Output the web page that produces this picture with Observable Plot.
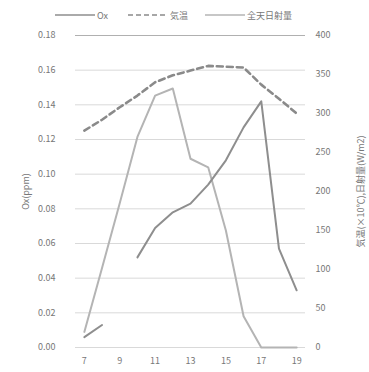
<!DOCTYPE html>
<html>
<head>
<meta charset="utf-8">
<script src="https://cdn.jsdelivr.net/npm/d3@7"></script>
<script src="https://cdn.jsdelivr.net/npm/@observablehq/plot@0.6"></script>
<style>
  html, body { margin: 0; padding: 0; background: #fff; }
  body { width: 369px; height: 372px; overflow: hidden; font-family: "Noto Sans CJK JP", "Noto Sans", sans-serif; }
  #legend { position: relative; height: 28px; width: 369px; font-size: 9px; color: #777; }
  .item { position: absolute; top: 9px; display: flex; align-items: center; height: 12px; }
  .item svg { margin-right: 2px; }
</style>
</head>
<body>
<div id="legend"></div>
<div id="chart"></div>
<script>
// ---- data ----
const hours = [7, 8, 9, 10, 11, 12, 13, 14, 15, 16, 17, 18, 19];
const ox = [0.006, 0.013, null, 0.052, 0.069, 0.078, 0.083, 0.094, 0.108, 0.127, 0.142, 0.057, 0.033];
const temp10 = [278, 292, 308, 323, 340, 349, 355, 361, 360, 359, 337, 319, 300];
const radiation = [20, 102, 185, 270, 323, 332, 242, 231, 150, 40, 0, 0, 0];
const leftTicks = [0, 0.02, 0.04, 0.06, 0.08, 0.10, 0.12, 0.14, 0.16, 0.18];
const rightTicks = [0, 50, 100, 150, 200, 250, 300, 350, 400];
const xTicks = [7, 9, 11, 13, 15, 17, 19];
const seriesNames = ["Ox", "気温", "全天日射量"];
const leftLabel = "Ox(ppm)";
const rightLabel = "気温(×10℃),日射量(W/m2)";

const LMAX = 0.18, RMAX = 400;
const toLeft = v => v == null ? NaN : v * LMAX / RMAX;

const oxData = hours.map((h, i) => ({h, v: ox[i] == null ? NaN : ox[i]}));
const tempData = hours.map((h, i) => ({h, v: toLeft(temp10[i])}));
const radData = hours.map((h, i) => ({h, v: toLeft(radiation[i])}));

const colOx = "#8e8e8e", colTemp = "#8a8a8a", colRad = "#b4b4b4";

// ---- legend ----
const legend = document.getElementById("legend");
const items = [
  {name: seriesNames[0], color: colOx, dash: null, left: 55},
  {name: seriesNames[1], color: colTemp, dash: "5,3", left: 128},
  {name: seriesNames[2], color: colRad, dash: null, left: 205}
];
for (const it of items) {
  const d = document.createElement("div");
  d.className = "item";
  d.style.left = it.left + "px";
  d.innerHTML = `<svg width="40" height="6"><line x1="0" y1="3" x2="40" y2="3" stroke="${it.color}" stroke-width="1.6" ${it.dash ? `stroke-dasharray="${it.dash}"` : ""}/></svg><span>${it.name}</span>`;
  legend.appendChild(d);
}

// ---- chart ----
const chart = Plot.plot({
  width: 369,
  height: 344,
  marginLeft: 75,
  marginRight: 64,
  marginTop: 7,
  marginBottom: 25,
  style: {fontFamily: '"Noto Sans CJK JP", "Noto Sans", sans-serif', fontSize: "9px", color: "#777", background: "#fff"},
  x: {domain: [6.5, 19.5]},
  y: {domain: [0, LMAX]},
  marks: [
    Plot.ruleY(leftTicks.slice(0, -1), {stroke: "#d9d9d9", strokeWidth: 1}),
    Plot.ruleY([LMAX], {stroke: "#b0b0b0", strokeWidth: 1.2}),
    Plot.axisY({ticks: leftTicks, tickSize: 0, tickPadding: 20, tickFormat: d3.format(".2f"),
      label: leftLabel, labelAnchor: "center", labelArrow: "none", labelOffset: 53, fill: "#777"}),
    Plot.axisY({anchor: "right", ticks: rightTicks.map(toLeft), tickSize: 0, tickPadding: 10,
      tickFormat: d => String(Math.round(d * RMAX / LMAX)),
      label: rightLabel, labelAnchor: "center", labelArrow: "none", labelOffset: 58, fill: "#777"}),
    Plot.axisX({ticks: xTicks, tickSize: 0, tickPadding: 10, tickFormat: d => String(d), label: null, fill: "#777"}),
    Plot.line(radData, {x: "h", y: "v", stroke: colRad, strokeWidth: 2}),
    Plot.line(oxData, {x: "h", y: "v", stroke: colOx, strokeWidth: 2}),
    Plot.line(tempData, {x: "h", y: "v", stroke: colTemp, strokeWidth: 2.6, strokeDasharray: "6,4"})
  ]
});
document.getElementById("chart").appendChild(chart);
</script>
</body>
</html>
